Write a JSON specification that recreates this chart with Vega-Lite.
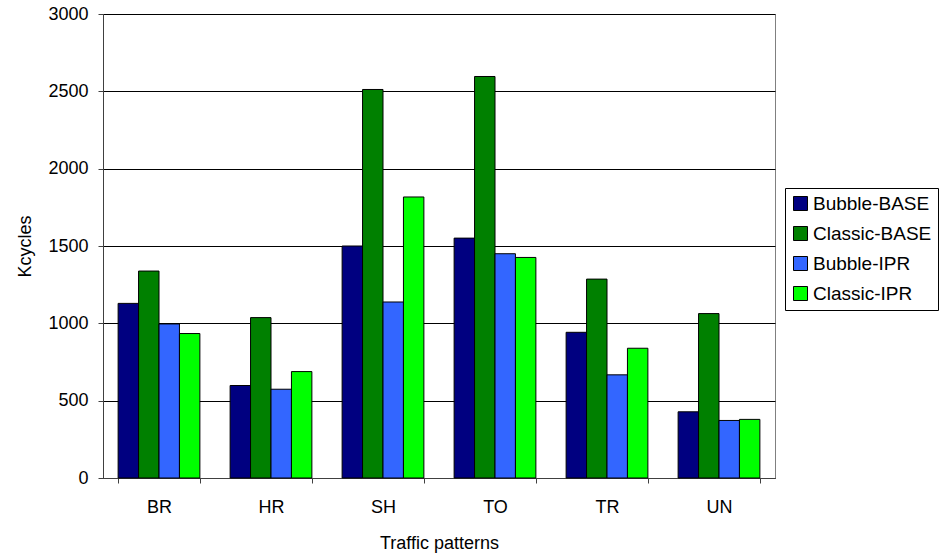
{
  "$schema": "https://vega.github.io/schema/vega-lite/v6.json",
  "autosize": {"type": "none"},
  "width": 672,
  "height": 464,
  "padding": {"left": 103, "top": 14, "right": 164, "bottom": 78},
  "background": "white",
  "config": {
    "font": "Liberation Sans",
    "view": {"stroke": "#808080", "strokeWidth": 1},
    "axis": {"labelFont": "Liberation Sans", "titleFont": "Liberation Sans", "labelColor": "black", "titleColor": "black", "titleFontWeight": "normal", "domainColor": "#404040", "tickColor": "#404040"}
  },
  "data": {
    "values": [
      {"pattern": "BR", "series": "Bubble-BASE", "kcycles": 1129},
      {"pattern": "BR", "series": "Classic-BASE", "kcycles": 1338},
      {"pattern": "BR", "series": "Bubble-IPR", "kcycles": 996},
      {"pattern": "BR", "series": "Classic-IPR", "kcycles": 934},
      {"pattern": "HR", "series": "Bubble-BASE", "kcycles": 598},
      {"pattern": "HR", "series": "Classic-BASE", "kcycles": 1037},
      {"pattern": "HR", "series": "Bubble-IPR", "kcycles": 574},
      {"pattern": "HR", "series": "Classic-IPR", "kcycles": 688},
      {"pattern": "SH", "series": "Bubble-BASE", "kcycles": 1500},
      {"pattern": "SH", "series": "Classic-BASE", "kcycles": 2512},
      {"pattern": "SH", "series": "Bubble-IPR", "kcycles": 1138},
      {"pattern": "SH", "series": "Classic-IPR", "kcycles": 1817},
      {"pattern": "TO", "series": "Bubble-BASE", "kcycles": 1551},
      {"pattern": "TO", "series": "Classic-BASE", "kcycles": 2596},
      {"pattern": "TO", "series": "Bubble-IPR", "kcycles": 1450},
      {"pattern": "TO", "series": "Classic-IPR", "kcycles": 1426},
      {"pattern": "TR", "series": "Bubble-BASE", "kcycles": 942},
      {"pattern": "TR", "series": "Classic-BASE", "kcycles": 1286},
      {"pattern": "TR", "series": "Bubble-IPR", "kcycles": 667},
      {"pattern": "TR", "series": "Classic-IPR", "kcycles": 839},
      {"pattern": "UN", "series": "Bubble-BASE", "kcycles": 428},
      {"pattern": "UN", "series": "Classic-BASE", "kcycles": 1063},
      {"pattern": "UN", "series": "Bubble-IPR", "kcycles": 372},
      {"pattern": "UN", "series": "Classic-IPR", "kcycles": 379}
    ]
  },
  "mark": {"type": "bar", "stroke": "black", "strokeWidth": 1},
  "encoding": {
    "x": {
      "field": "pattern", "type": "nominal",
      "scale": {"paddingInner": 0.27, "paddingOuter": 0.135},
      "axis": {
        "title": "Traffic patterns", "labelAngle": 0, "labelFontSize": 18, "titleFontSize": 18,
        "tickBand": "extent", "tickSize": 5, "labelPadding": 15, "titlePadding": 18, "grid": false
      }
    },
    "xOffset": {"field": "series", "sort": ["Bubble-BASE", "Classic-BASE", "Bubble-IPR", "Classic-IPR"]},
    "y": {
      "field": "kcycles", "type": "quantitative",
      "scale": {"domain": [0, 3000], "nice": false},
      "axis": {
        "title": "Kcycles", "values": [0, 500, 1000, 1500, 2000, 2500, 3000], "format": "d",
        "labelFontSize": 18, "titleFontSize": 18, "tickSize": 5, "labelPadding": 10, "titlePadding": 13,
        "gridColor": "black", "gridOpacity": 1, "gridWidth": 1
      }
    },
    "color": {
      "field": "series", "type": "nominal",
      "scale": {"domain": ["Bubble-BASE", "Classic-BASE", "Bubble-IPR", "Classic-IPR"], "range": ["#000080", "#008000", "#3366FF", "#00FF00"]},
      "legend": {
        "title": null, "orient": "none", "legendX": 682, "legendY": 174,
        "symbolType": "square", "symbolSize": 196, "symbolStrokeColor": "black", "symbolStrokeWidth": 1, "symbolOpacity": 1,
        "labelFontSize": 19, "labelFont": "Liberation Sans", "labelColor": "black", "labelOffset": 3,
        "rowPadding": 10, "padding": 6, "strokeColor": "black", "fillColor": "white", "offset": 0
      }
    }
  }
}
